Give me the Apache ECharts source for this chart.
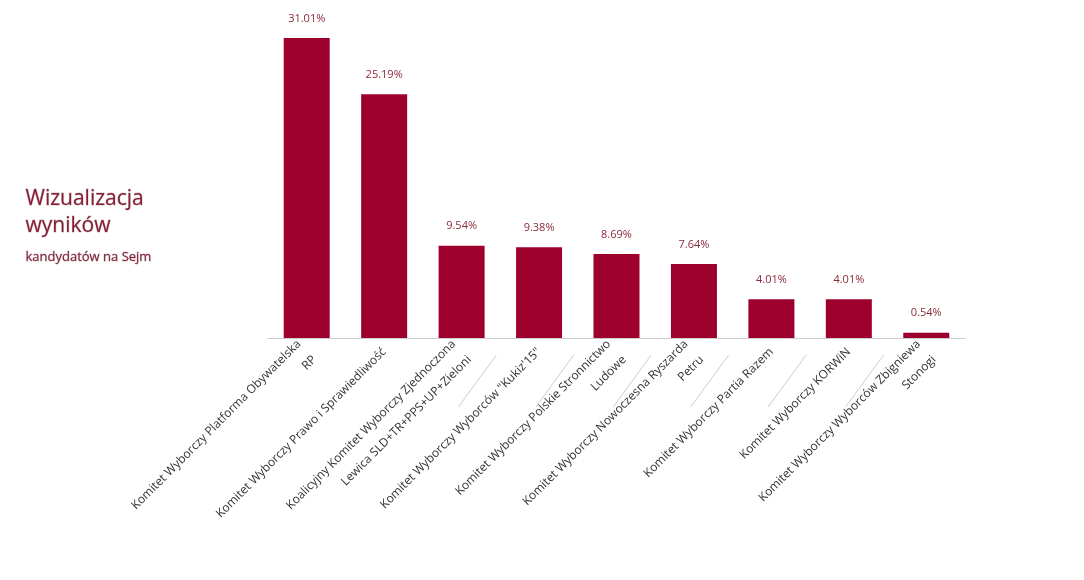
<!DOCTYPE html>
<html><head><meta charset="utf-8">
<script src="https://cdn.jsdelivr.net/npm/echarts@6/dist/echarts.min.js"></script>
<style>html,body{margin:0;background:#fff}#c{width:1084px;height:580px}</style>
</head><body><div id="c"></div>
<script>
const categories = [
  'Komitet Wyborczy Platforma Obywatelska\nRP',
  'Komitet Wyborczy Prawo i Sprawiedliwość',
  'Koalicyjny Komitet Wyborczy Zjednoczona\nLewica SLD+TR+PPS+UP+Zieloni',
  'Komitet Wyborczy Wyborców "Kukiz\'15"',
  'Komitet Wyborczy Polskie Stronnictwo\nLudowe',
  'Komitet Wyborczy Nowoczesna Ryszarda\nPetru',
  'Komitet Wyborczy Partia Razem',
  'Komitet Wyborczy KORWiN',
  'Komitet Wyborczy Wyborców Zbigniewa\nStonogi'
];
const values = [31.01, 25.19, 9.54, 9.38, 8.69, 7.64, 4.01, 4.01, 0.54];

const RED = '#9e002e';
const FONT = '"Open Sans", sans-serif';
const chart = echarts.init(document.getElementById('c'), null, { renderer: 'canvas' });
chart.setOption({
  animation: false,
  textStyle: { fontFamily: FONT },
  grid: { left: 268, right: 119, top: 38, bottom: 242, containLabel: false },
  graphic: [
    { type: 'text', left: 25, top: 186, style: { text: 'Wizualizacja\nwyników', fill: '#8b1a33', font: '21px "Open Sans"', lineHeight: 27 } },
    { type: 'text', left: 25, top: 250, style: { text: 'kandydatów na Sejm', fill: '#8b1a33', font: '13px "Open Sans"' } }
  ],
  xAxis: {
    type: 'category',
    data: categories,
    axisLine: { lineStyle: { color: '#cccccc' } },
    axisTick: { show: false },
    axisLabel: { rotate: 45, interval: 0, color: '#333', fontSize: 12, lineHeight: 22, margin: 12, fontFamily: FONT, align: 'right' }
  },
  yAxis: { type: 'value', min: 0, max: 31.01, show: false },
  series: [{
    type: 'bar',
    data: values,
    barWidth: 46,
    itemStyle: { color: RED },
    label: { show: true, position: 'top', distance: 14, color: '#8b2a3a', fontSize: 11, fontFamily: FONT, formatter: p => p.value.toFixed(2) + '%' }
  }]
});
// decorative diagonal separators between category labels
const seps = [];
for (let i = 0; i < categories.length - 1; i++) {
  const a = chart.convertToPixel({ xAxisIndex: 0 }, i);
  const b = chart.convertToPixel({ xAxisIndex: 0 }, i + 1);
  const m = (a + b) / 2;
  seps.push({ type: 'line', shape: { x1: m - 4, y1: 355, x2: m - 42, y2: 407 }, style: { stroke: '#cccccc', lineWidth: 1 } });
}
chart.setOption({ graphic: seps });
</script></body></html>
